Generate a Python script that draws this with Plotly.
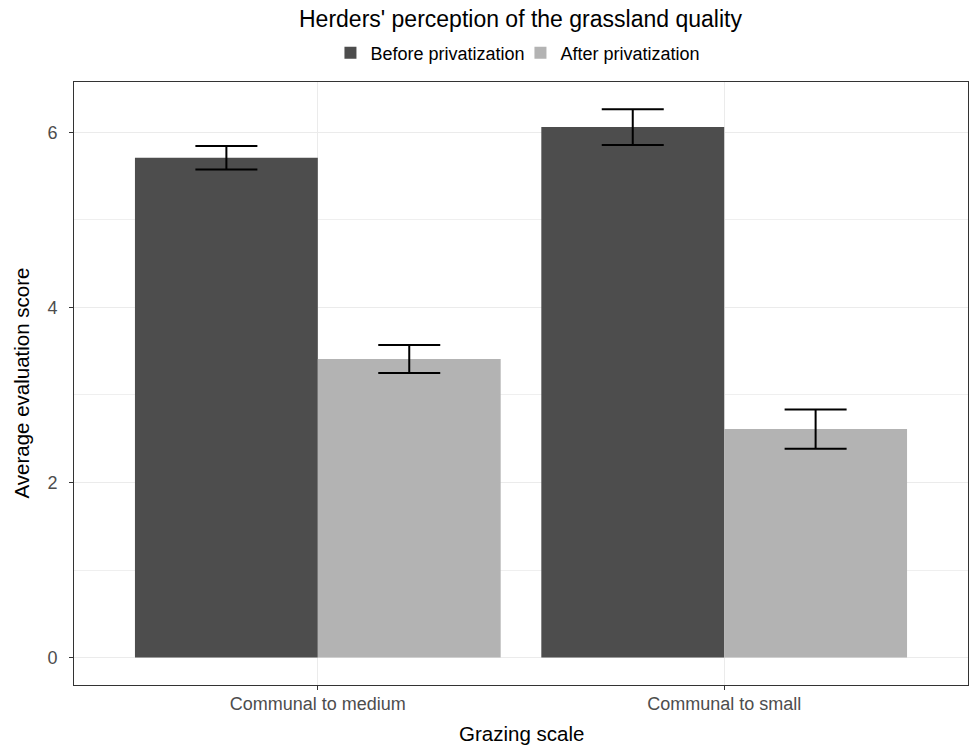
import plotly.graph_objects as go

categories = ["Communal to medium", "Communal to small"]
before_vals = [5.71, 6.06]
before_err = [0.135, 0.205]
after_vals = [3.41, 2.61]
after_err = [0.16, 0.225]

FONT = "Liberation Sans, Arial, sans-serif"

fig = go.Figure()
fig.add_trace(go.Bar(
    x=categories, y=before_vals, name="Before privatization",
    marker=dict(color="#4D4D4D", line=dict(width=0)),
    error_y=dict(type="data", array=before_err, color="black", thickness=2, width=31),
))
fig.add_trace(go.Bar(
    x=categories, y=after_vals, name="After privatization",
    marker=dict(color="#B3B3B3", line=dict(width=0)),
    error_y=dict(type="data", array=after_err, color="black", thickness=2, width=31),
))

fig.update_layout(
    width=971, height=747,
    barmode="group", bargap=0.1, bargroupgap=0,
    plot_bgcolor="white", paper_bgcolor="white",
    margin=dict(l=74, r=3, t=82, b=62),
    font=dict(family=FONT, color="black"),
    title=dict(text="Herders' perception of the grassland quality", x=0.536, xanchor="center",
               xref="container", yref="container",
               y=1 - 19 / 747, yanchor="middle", font=dict(size=23, color="black")),
    legend=dict(orientation="h", x=0.536, xanchor="center", xref="container", yref="container",
                y=1 - 53 / 747, yanchor="middle",
                font=dict(size=18, color="black"), traceorder="normal",
                itemsizing="constant", tracegroupgap=0, itemwidth=30,
                entrywidth=145, entrywidthmode="pixels"),
    xaxis=dict(
        range=[-0.6, 1.6], showgrid=True, gridcolor="#EBEBEB", gridwidth=1.2,
        showline=True, linecolor="#333333", linewidth=1, mirror=True,
        ticks="outside", ticklen=4, tickcolor="#333333", automargin=False,
        tickfont=dict(size=18, color="#4D4D4D"), zeroline=False,
        ticklabelstandoff=-2,
    ),
    yaxis=dict(
        range=[-0.313, 6.575], tickvals=[0, 2, 4, 6], showgrid=True, gridcolor="#EBEBEB",
        gridwidth=1.2, showline=True, linecolor="#333333", linewidth=1, mirror=True,
        ticks="outside", ticklen=4, tickcolor="#333333", automargin=False,
        tickfont=dict(size=18, color="#4D4D4D"), zeroline=False,
        ticklabelstandoff=8,
        minor=dict(tickvals=[1, 3, 5], showgrid=True, gridcolor="#EFEFEF", gridwidth=0.7, ticks=""),
    ),
    annotations=[
        dict(text="Grazing scale", xref="paper", yref="paper", x=0.5, y=0,
             xanchor="center", yanchor="middle", yshift=-48, showarrow=False,
             font=dict(size=20.5, color="black")),
        dict(text="Average evaluation score", xref="paper", yref="paper", x=0, y=0.5,
             xanchor="center", yanchor="middle", xshift=-53, textangle=-90, showarrow=False,
             font=dict(size=20.5, color="black")),
    ],
)

fig.write_html("out.html", config={"displayModeBar": False},
               post_script="document.body.style.margin='0px';document.body.style.overflow='hidden';")
